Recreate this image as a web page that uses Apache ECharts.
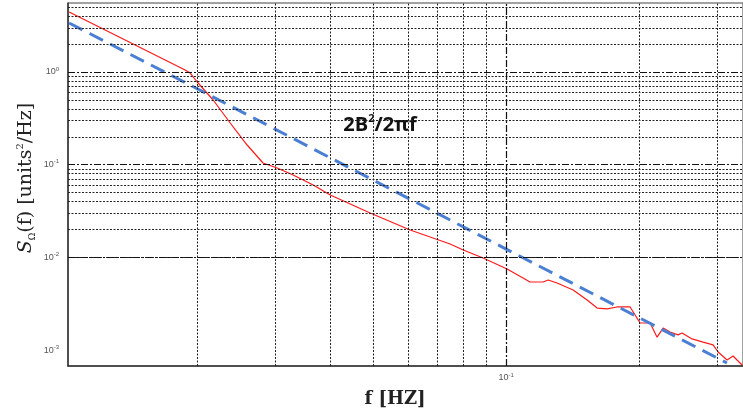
<!DOCTYPE html>
<html><head><meta charset="utf-8">
<script src="https://cdn.jsdelivr.net/npm/echarts@6/dist/echarts.min.js"></script>
<style>html,body{margin:0;padding:0;background:#fff}#c{width:743px;height:412px}</style>
</head><body><div id="c"></div>
<script>
// measured spectrum (red)
const measuredFreq = [0.01026, 0.01878, 0.01928, 0.0200, 0.02173, 0.02375, 0.02594, 0.02818, 0.03033, 0.03297,
  0.0366, 0.0400, 0.04924, 0.06066, 0.07468, 0.0800, 0.0887, 0.1005, 0.1133, 0.1213, 0.1245, 0.1304, 0.1418,
  0.1525, 0.1607, 0.1692, 0.1783, 0.1908, 0.2010, 0.2118, 0.2196, 0.2266, 0.2350, 0.2449, 0.2501, 0.2635,
  0.2791, 0.2940, 0.3018, 0.3162, 0.3263, 0.3331, 0.3420];
const measuredPsd = [4.44, 1.051, 0.975, 0.780, 0.499, 0.2818, 0.1631, 0.1043, 0.0921, 0.0774,
  0.0604, 0.0471, 0.0301, 0.01975, 0.01395, 0.01202, 0.00985, 0.0075, 0.00543, 0.00543, 0.00571, 0.00529, 0.00445,
  0.00347, 0.00284, 0.00278, 0.00292, 0.00292, 0.00196, 0.00196, 0.00138, 0.00173, 0.00157, 0.00146, 0.00153, 0.00132,
  0.00122, 0.00114, 0.000954, 0.000782, 0.000864, 0.000782, 0.000691];
// model 2B^2/2πf (blue dashed)
const modelFreq = [0.01026, 0.02, 0.1, 0.316];
const modelPsd = [3.38, 0.66, 0.0123, 0.000726];
// grid line positions
const xMajorTicks = [0.1];
const xMinorTicks = [0.02, 0.03, 0.04, 0.05, 0.06, 0.07, 0.08, 0.09, 0.2, 0.3];
const yMajorTicks = [1, 0.1, 0.01, 0.001];
const yMinorTicks = [2, 3, 4, 5, 0.2, 0.3, 0.4, 0.5, 0.6, 0.7, 0.8, 0.9,
  0.02, 0.03, 0.04, 0.05, 0.06, 0.07, 0.08, 0.09,
  0.002, 0.003, 0.004, 0.005, 0.006, 0.007, 0.008, 0.009,
  0.0007, 0.0008, 0.0009];
const xRange = [0.0102, 0.3436];
const yRange = [0.000674, 5.55];

const zip = (a, b) => a.map((v, i) => [v, b[i]]);
const majorStyle = {color: '#111', width: 1.2, type: [7, 2, 2, 2]};
const minorStyle = {color: '#222', width: 1, type: [2, 1.5]};
const gridLines = [].concat(
  yMinorTicks.map(v => ({yAxis: v, lineStyle: minorStyle})),
  xMinorTicks.map(v => ({xAxis: v, lineStyle: minorStyle})),
  yMajorTicks.map(v => ({yAxis: v, lineStyle: majorStyle})),
  xMajorTicks.map(v => ({xAxis: v, lineStyle: majorStyle}))
);
const isPow = v => Math.abs(Math.log10(v) - Math.round(Math.log10(v))) < 1e-6;
const powLabel = v => isPow(v) ? '{b|10}{s|' + Math.round(Math.log10(v)) + '}' : '';
const labelRich = {
  b: {fontSize: 9, color: '#555', fontFamily: 'Liberation Sans', lineHeight: 12},
  s: {fontSize: 6, color: '#555', fontFamily: 'Liberation Sans', lineHeight: 6, verticalAlign: 'top'}
};

const chart = echarts.init(document.getElementById('c'));
chart.setOption({
  animation: false,
  backgroundColor: '#fff',
  grid: {left: 68, right: 0, top: 3, bottom: 46, show: true, borderColor: '#444', borderWidth: 1},
  xAxis: {
    type: 'log', min: xRange[0], max: xRange[1],
    axisLine: {show: true, lineStyle: {color: '#333', width: 1.5}},
    axisTick: {show: false}, splitLine: {show: false}, minorTick: {show: false},
    axisLabel: {formatter: powLabel, rich: labelRich, margin: 6, showMinLabel: false, showMaxLabel: false}
  },
  yAxis: {
    type: 'log', min: yRange[0], max: yRange[1],
    axisLine: {show: true, lineStyle: {color: '#333', width: 1.5}},
    axisTick: {show: false}, splitLine: {show: false}, minorTick: {show: false},
    axisLabel: {formatter: powLabel, rich: labelRich, margin: 9, showMinLabel: false, showMaxLabel: false}
  },
  series: [
    {
      type: 'line', name: 'grid', data: [], z: 1, silent: true,
      markLine: {silent: true, symbol: ['none', 'none'], label: {show: false}, animation: false, data: gridLines}
    },
    {
      type: 'line', name: 'measured', data: zip(measuredFreq, measuredPsd), z: 3,
      symbol: 'none', lineStyle: {color: '#ff1a1a', width: 1.2}
    },
    {
      type: 'line', name: '2B²/2πf', data: zip(modelFreq, modelPsd), z: 4,
      symbol: 'none', lineStyle: {color: '#4a7fd4', width: 3, type: [15, 8]}
    }
  ],
  graphic: [
    {
      type: 'text', x: 26, y: 178, rotation: Math.PI / 2,
      style: {
        text: '{i|S}{sub|Ω}{n|(f) [units}{sup|2}{n|/Hz]}',
        align: 'center', verticalAlign: 'middle', textAlign: 'center', textVerticalAlign: 'middle',
        rich: {
          i: {fontSize: 19, fontFamily: 'DejaVu Serif', fontStyle: 'italic', fill: '#222', lineHeight: 22},
          sub: {fontSize: 9, fontFamily: 'DejaVu Serif', fill: '#222', lineHeight: 9, verticalAlign: 'bottom'},
          n: {fontSize: 19, fontFamily: 'DejaVu Serif', fill: '#222', lineHeight: 22},
          sup: {fontSize: 10, fontFamily: 'DejaVu Serif', fill: '#222', lineHeight: 10, verticalAlign: 'top'}
        }
      }
    },
    {
      type: 'text', x: 395, y: 399,
      style: {
        text: 'f [HZ]', font: 'bold 18px "DejaVu Serif"', fill: '#222',
        align: 'center', verticalAlign: 'middle', textAlign: 'center', textVerticalAlign: 'middle'
      }
    },
    {
      type: 'text', x: 380, y: 125,
      style: {
        text: '{n|2B}{s|2}{n|/2πf}',
        align: 'center', verticalAlign: 'middle', textAlign: 'center', textVerticalAlign: 'middle',
        rich: {
          n: {fontSize: 20, fontWeight: 'bold', fontFamily: 'Open Sans', fill: '#111', lineHeight: 24},
          s: {fontSize: 11, fontWeight: 'bold', fontFamily: 'Open Sans', fill: '#111', lineHeight: 12, verticalAlign: 'top'}
        }
      }
    }
  ]
});
</script>
</body></html>
